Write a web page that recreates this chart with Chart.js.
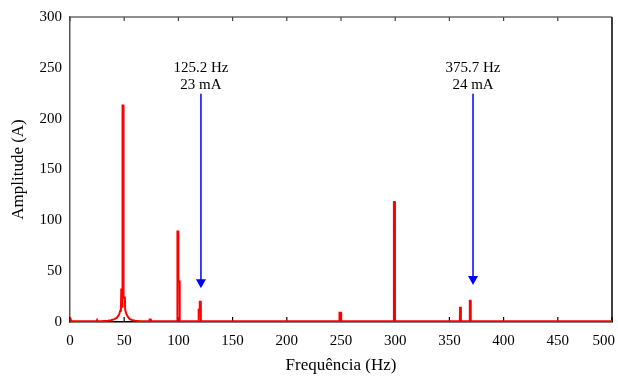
<!DOCTYPE html>
<html>
<head>
<meta charset="utf-8">
<script src="https://cdn.jsdelivr.net/npm/chart.js@4/dist/chart.umd.min.js"></script>
<style>
  html, body { margin: 0; padding: 0; background: #fff; }
  canvas { display: block; }
</style>
</head>
<body>
<canvas id="espectro" width="618" height="376"></canvas>
<script>
// traço do espectro: frequência (Hz) e amplitude (A), ponto a ponto
const freqHz = [0, 0.8, 1.2, 10.2, 10.6, 11, 24.6, 25, 25.4, 30, 35, 38, 41, 43, 44.5, 45.5, 46.3, 47,
  47.3, 48, 48.3, 48.6, 49.1, 49.4, 50.6, 50.9, 52, 53.5, 55, 57, 60, 65,
  73, 73.5, 74.5, 75, 98.9, 99.1, 99.8, 100, 101, 101.2,
  118.5, 118.7, 119.5, 119.7, 120.5, 120.7,
  248.4, 248.6, 250.0, 250.2, 298.6, 298.8, 299.6, 299.8,
  359.6, 359.8, 360.5, 360.7, 368.6, 368.8, 369.5, 369.7, 500];
const ampA = [4.5, 4.5, 0.8, 0.8, 1.6, 0.8, 0.8, 1.8, 0.8, 0.9, 1.2, 1.8, 2.8, 4, 6, 8, 11, 13,
  32, 32, 14, 213, 213, 24, 24, 12, 8, 5, 3, 2, 1.2, 0.8,
  0.8, 2.5, 2.5, 0.8, 0.8, 89, 89, 40, 40, 0.8,
  0.8, 12, 12, 20, 20, 0.8,
  0.8, 9, 9, 0.8, 0.8, 118, 118, 0.8,
  0.8, 15, 15, 0.8, 0.8, 21, 21, 0.8, 0.8];

const xTicks = [0, 50, 100, 150, 200, 250, 300, 350, 400, 450, 500];
const yTicks = [0, 50, 100, 150, 200, 250, 300];

// setas de destaque: posição (Hz), início e ponta (A), texto
const setaHz = [120.8, 371.8];
const setaTopo = [224.5, 224.5];
const setaPonta = [33.3, 36.3];
const setaTexto = [["125.2 Hz", "23 mA"], ["375.7 Hz", "24 mA"]];

const fonte = "'Liberation Serif', 'Times New Roman', serif";

const pontos = freqHz.map((f, i) => ({ x: f, y: ampA[i] }));

// moldura superior/direita e marcas internas do eixo x
const moldura = {
  id: "moldura",
  beforeDatasetsDraw(chart) {
    const { ctx, chartArea: a, scales } = chart;
    ctx.save();
    ctx.lineWidth = 1.5;
    ctx.strokeStyle = "#6a6a6a";
    ctx.beginPath();
    ctx.moveTo(a.left, a.top);
    ctx.lineTo(a.right, a.top);
    ctx.stroke();
    ctx.strokeStyle = "#000";
    ctx.beginPath();
    ctx.moveTo(a.right, a.top);
    ctx.lineTo(a.right, a.bottom);
    ctx.stroke();
    ctx.lineWidth = 1.2;
    xTicks.forEach(t => {
      const px = scales.x.getPixelForValue(t);
      ctx.strokeStyle = "#000";
      ctx.beginPath();
      ctx.moveTo(px, a.bottom);
      ctx.lineTo(px, a.bottom - 5);
      ctx.stroke();
      ctx.strokeStyle = "#444";
      ctx.beginPath();
      ctx.moveTo(px, a.top);
      ctx.lineTo(px, a.top + 4);
      ctx.stroke();
    });
    ctx.restore();
  },
  afterDraw(chart) {
    const { ctx, chartArea: a, scales } = chart;
    ctx.save();
    // último rótulo do eixo x alinhado à direita para caber na tela
    ctx.font = "15px " + fonte;
    ctx.fillStyle = "#000";
    ctx.textAlign = "right";
    ctx.textBaseline = "middle";
    ctx.fillText(String(xTicks[xTicks.length - 1]), a.right + 3, scales.x.top + 19);

    setaHz.forEach((f, i) => {
      const x = scales.x.getPixelForValue(f);
      const y0 = scales.y.getPixelForValue(setaTopo[i]);
      const y1 = scales.y.getPixelForValue(setaPonta[i]);
      ctx.strokeStyle = "#0000ff";
      ctx.fillStyle = "#0000ff";
      ctx.lineWidth = 1.5;
      ctx.beginPath();
      ctx.moveTo(x, y0);
      ctx.lineTo(x, y1 - 8);
      ctx.stroke();
      ctx.beginPath();
      ctx.moveTo(x - 5, y1 - 9);
      ctx.lineTo(x + 5, y1 - 9);
      ctx.lineTo(x, y1);
      ctx.closePath();
      ctx.fill();

      ctx.fillStyle = "#000";
      ctx.textAlign = "center";
      ctx.fillText(setaTexto[i][0], x, y0 - 26);
      ctx.fillText(setaTexto[i][1], x, y0 - 9);
    });
    ctx.restore();
  }
};

new Chart(document.getElementById("espectro"), {
  type: "line",
  data: {
    datasets: [{
      data: pontos,
      borderColor: "#ff0000",
      borderWidth: 2,
      pointRadius: 0,
      tension: 0
    }]
  },
  options: {
    responsive: false,
    animation: false,
    devicePixelRatio: 1,
    layout: { padding: { left: 0, top: 16, right: 6, bottom: 0 } },
    plugins: { legend: { display: false }, tooltip: { enabled: false } },
    scales: {
      x: {
        type: "linear",
        min: 0,
        max: 500,
        afterBuildTicks: s => { s.ticks = xTicks.map(v => ({ value: v })); },
        afterFit: s => { s.height = 54; s.paddingLeft = 0; s.paddingRight = 0; },
        grid: { display: false, drawTicks: false },
        border: { display: true, color: "#000", width: 1.5 },
        ticks: {
          color: "#000",
          padding: 10,
          maxRotation: 0,
          font: { family: fonte, size: 15 },
          callback: v => (v === 500 ? "" : v)
        },
        title: {
          display: true,
          text: "Frequência (Hz)",
          color: "#000",
          padding: { top: 0, bottom: 0 },
          font: { family: fonte, size: 17 }
        }
      },
      y: {
        min: 0,
        max: 300,
        afterBuildTicks: s => { s.ticks = yTicks.map(v => ({ value: v })); },
        afterFit: s => { s.width = 70; },
        grid: { display: false, drawTicks: false },
        border: { display: true, color: "#555", width: 1.5 },
        ticks: {
          color: "#000",
          padding: 8,
          font: { family: fonte, size: 15 }
        },
        title: {
          display: true,
          text: "Amplitude (A)",
          color: "#000",
          padding: { top: 8, bottom: 0 },
          font: { family: fonte, size: 17 }
        }
      }
    }
  },
  plugins: [moldura]
});
</script>
</body>
</html>
